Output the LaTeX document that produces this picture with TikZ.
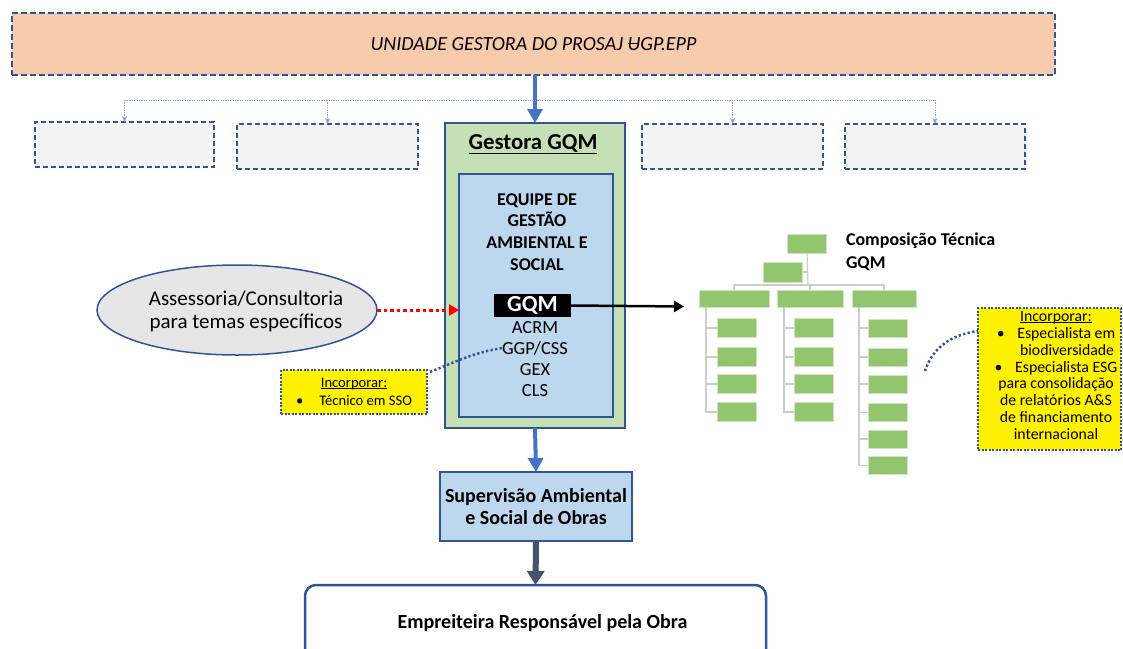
\documentclass[tikz,border=0pt]{standalone}
\usepackage{fontspec}
\setmainfont{Carlito}
\usetikzlibrary{arrows.meta,shapes.geometric,calc}
\definecolor{bord}{HTML}{2F5597}
\definecolor{peach}{HTML}{F8CBAD}
\definecolor{accent}{HTML}{4472C4}
\definecolor{lgreen}{HTML}{C5E0B4}
\definecolor{lblue}{HTML}{BDD7EE}
\definecolor{lgray}{HTML}{F2F2F2}
\definecolor{egray}{HTML}{E7E6E6}
\definecolor{slate}{HTML}{44546A}
\definecolor{ogreen}{HTML}{92C66E}
\definecolor{oline}{HTML}{C9CEC9}
\newcommand\fsz[2]{\fontsize{#1}{#2}\selectfont}
\newcommand\lowul[1]{\setbox0\hbox{#1}\rlap{\rule[-1.6pt]{\wd0}{0.8pt}}\box0}
\begin{document}
\begin{tikzpicture}[x=1pt,y=-1pt,
  every node/.style={inner sep=0pt, outer sep=0pt},
  banner/.style={draw=bord, fill=peach, line width=2.5pt, dash pattern=on 6pt off 3pt},
  emptybox/.style={draw=bord, fill=lgray, line width=2pt, dash pattern=on 5pt off 3pt},
  greenbox/.style={draw=bord, fill=lgreen, line width=1.5pt},
  bluebox/.style={draw=bord, fill=lblue, line width=1.3pt},
  notebox/.style={draw=bord, fill=yellow, line width=2pt, dash pattern=on 2pt off 1.5pt},
  orgbox/.style={draw=white!55!ogreen, fill=ogreen, line width=0.8pt, minimum width=39pt, minimum height=19pt},
  orgline/.style={draw=oline, line width=1.2pt},
  distr/.style={draw=accent!65, line width=0.9pt, dash pattern=on 1.2pt off 1.2pt},
  distrarrow/.style={distr, -{Stealth[length=6pt,width=5pt]}},
  bluearrow/.style={draw=accent, line width=4pt, -{Triangle[length=14pt,width=15pt]}},
  slatearrow/.style={draw=slate, line width=6pt, -{Triangle[length=14pt,width=17pt]}},
  dotlink/.style={draw=bord, line width=2.5pt, dash pattern=on 2.3pt off 2.3pt}
]
\useasboundingbox (0,0) rectangle (1123,648);

% top banner
\node[banner, minimum width=1043pt, minimum height=62pt, font=\fsz{20}{24}\itshape] (ugp) at (533.5,44)
  {UNIDADE GESTORA DO PROSAJ \rlap{\raisebox{0.3em}{\rule{0.55em}{1pt}}}UGP.EPP};

% empty dashed boxes
\node[emptybox, minimum width=179pt, minimum height=45pt] (e1) at (124.5,144.5) {};
\node[emptybox, minimum width=181pt, minimum height=45pt] (e2) at (327.5,146.5) {};
\node[emptybox, minimum width=181pt, minimum height=45pt] (e3) at (732.5,146.5) {};
\node[emptybox, minimum width=180pt, minimum height=45pt] (e4) at (935,146.5) {};

% Gestora box
\node[greenbox, minimum width=180pt, minimum height=305pt] (gestora) at (535,275.5) {};
\node[font=\fsz{22.8}{26}\bfseries, anchor=base] (gtitle) at (533,149) {\underline{Gestora GQM}};
\node[bluebox, minimum width=154pt, minimum height=243pt] (equipe) at (536,295.5) {};
\node[font=\fsz{18}{21.7}\bfseries, align=center] (equipetxt) at (537,232)
  {EQUIPE DE\\GESTÃO\\AMBIENTAL E\\SOCIAL};
\node[fill=black, minimum width=77pt, minimum height=23pt, text=white, font=\fsz{23}{26}\bfseries] (gqm) at (532.5,305.5) {GQM};
\node[font=\fsz{18.5}{20}, anchor=base] (acrm) at (535,333) {ACRM};
\node[font=\fsz{18.5}{20}, anchor=base] (ggp) at (535,354) {GGP/CSS};
\node[font=\fsz{18.5}{20}, anchor=base] (gex) at (535,375) {GEX};
\node[font=\fsz{18.5}{20}, anchor=base] (cls) at (535,396) {CLS};

% distribution from banner
\coordinate (hub) at (533.5,100);
\draw[bluearrow] (ugp.south -| gestora.north) -- (gestora.north);
\draw[distr] (e1.north |- hub) -- (e4.north |- hub);
\draw[distrarrow] (e1.north |- hub) -- (e1.north);
\draw[distrarrow] (e2.north |- hub) -- (e2.north);
\draw[distrarrow] (e3.north |- hub) -- (e3.north);
\draw[distrarrow] (e4.north |- hub) -- (e4.north);

% ellipse
\node[ellipse, draw=bord, fill=egray, line width=1.5pt, minimum width=280pt, minimum height=90pt] (assess) at (237,310) {};
\node[font=\fsz{21}{23}, align=center] (assesstxt) at (246,311)
  {Assessoria/Consultoria\\para temas específicos};
\draw[red, line width=3pt, dash pattern=on 3.5pt off 3pt, -{Triangle[length=10pt,width=11pt]}]
  (assess.east) -- (assess.east -| equipe.west);

% left note
\node[notebox, minimum width=146pt, minimum height=44pt, align=center, font=\fsz{14.6}{18}] (note1) at (354,392)
  {\lowul{Incorporar:}\\\textbullet\hspace{1.1em}Técnico em SSO};
\draw[dotlink] ([xshift=3pt,yshift=-2pt]note1.north east) to[out=22,in=190] (ggp.west);

% supervision and contractor
\node[bluebox, minimum width=192pt, minimum height=69pt, font=\fsz{20}{21.5}\bfseries, align=center] (sup) at (536,506.5)
  {Supervisão Ambiental\\e Social de Obras};
\draw[bluearrow] (gestora.south) -- (sup.north);
\node[draw=bord, line width=2.5pt, rounded corners=11pt, fill=white, minimum width=461pt, minimum height=76pt,
      font=\fsz{20}{21}\bfseries] (emp) at (535.5,623) {\hspace*{14pt}Empreiteira Responsável pela Obra};
\draw[slatearrow] (sup.south) -- (emp.north);

% org chart
\coordinate (orgin) at (684,306.5);
\draw[line width=2.5pt, -{Triangle[length=10pt,width=11pt]}] (gqm.east) -- (orgin);
\node[font=\fsz{18}{23}\bfseries, align=left, anchor=north west] (comp) at (846,233)
  {Composição Técnica\\GQM};

\node[orgbox] (o0) at (807,243.5) {};
\node[orgbox, minimum height=20pt] (o1) at (783,272) {};
\node[orgbox, minimum width=70pt, minimum height=17pt] (oa) at (734,298.5) {};
\node[orgbox, minimum width=66pt, minimum height=17pt] (ob) at (810,298.5) {};
\node[orgbox, minimum width=64pt, minimum height=17pt] (oc) at (884,298.5) {};
\coordinate (bar) at (808,285);
\foreach \n/\y in {1/328,2/357,3/384,4/412} {
  \node[orgbox] (a\n) at (736.5,\y) {};
  \node[orgbox] (b\n) at (813.5,\y) {};
}
\foreach \n/\y in {1/328,2/357,3/384,4/412.5,5/439,6/465.5} {
  \node[orgbox, minimum height=18pt] (c\n) at (887.5,\y) {};
}
\draw[orgline] (o0.south) -- (bar);
\draw[orgline] (o1.east) -- (o1.east -| bar);
\draw[orgline] (oa.north) |- (bar) -| (oc.north);
\draw[orgline] (ob.north) -- (ob.north |- bar);
\coordinate (ax) at ([xshift=7pt]oa.south west);
\coordinate (bx) at ([xshift=7pt]ob.south west);
\coordinate (cx) at ([xshift=7pt]oc.south west);
\draw[orgline] (ax) |- (a4.west);
\draw[orgline] (bx) |- (b4.west);
\draw[orgline] (cx) |- (c6.west);
\foreach \n in {1,2,3} {
  \draw[orgline] (a\n.west -| ax) -- (a\n.west);
  \draw[orgline] (b\n.west -| bx) -- (b\n.west);
}
\foreach \n in {1,...,5} {
  \draw[orgline] (c\n.west -| cx) -- (c\n.west);
}

% right note
\node[notebox, minimum width=143pt, minimum height=142pt] (note2) at (1049.5,379) {};
\node[align=center, font=\fsz{15.8}{16.9}] (note2txt) at (1056,375.5)
  {\lowul{Incorporar:}\\
   \textbullet\hspace{0.8em}Especialista em\\
   \hspace{1.4em}biodiversidade\\
   \textbullet\hspace{0.8em}Especialista ESG\\
   para consolidação\\
   de relatórios A\&S\\
   de financiamento\\
   internacional};
\coordinate (rstart) at (925,371);
\draw[dotlink] (rstart) to[out=72,in=188] ([yshift=48pt]note2.west);
\end{tikzpicture}
\end{document}
